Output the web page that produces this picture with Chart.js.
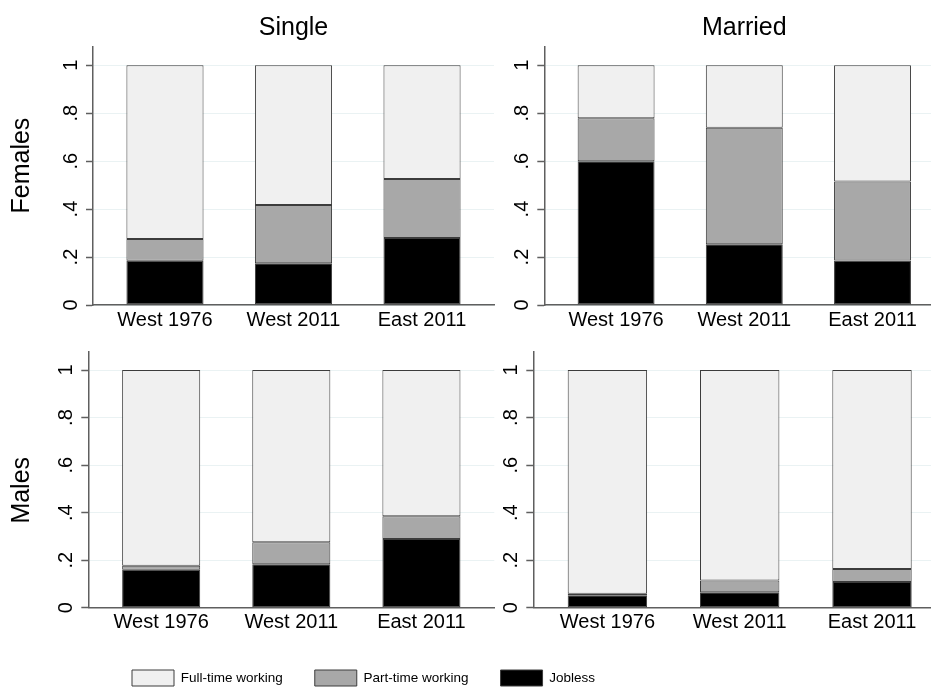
<!DOCTYPE html>
<html>
<head>
<meta charset="utf-8">
<script src="https://cdn.jsdelivr.net/npm/chart.js@4.4.0/dist/chart.umd.min.js"></script>
<style>
html, body { margin: 0; padding: 0; background: #ffffff; overflow: hidden; width: 931px; height: 689px; }
#wrap { position: relative; width: 931px; height: 689px; overflow: hidden; background: #ffffff; }
#wrap canvas { position: absolute; left: 0; }
</style>
</head>
<body>
<div id="wrap">
  <canvas id="tl" width="960" height="689" style="top:0;width:960px;height:689px"></canvas>
  <canvas id="tr" width="960" height="689" style="top:0;width:960px;height:689px"></canvas>
  <canvas id="bl" width="960" height="689" style="top:0;width:960px;height:689px"></canvas>
  <canvas id="br" width="960" height="689" style="top:0;width:960px;height:689px"></canvas>
  <canvas id="lg" width="960" height="160" style="top:560px;width:960px;height:160px"></canvas>
</div>
<script>
// ---- data ----
const categories = ['West 1976', 'West 2011', 'East 2011'];
const yTickValues = [0, 0.2, 0.4, 0.6, 0.8, 1];
const yTickLabels = ['0', '.2', '.4', '.6', '.8', '1'];
const seriesNames = ['Full-time working', 'Part-time working', 'Jobless'];
const columnTitles = ['Single', 'Married'];
const rowTitles = ['Females', 'Males'];

// Females, single
const singleFemalesJobless = [0.185, 0.174, 0.279];
const singleFemalesPart    = [0.090, 0.243, 0.246];
const singleFemalesFull    = [0.725, 0.583, 0.475];
// Females, married
const marriedFemalesJobless = [0.600, 0.253, 0.186];
const marriedFemalesPart    = [0.179, 0.486, 0.329];
const marriedFemalesFull    = [0.221, 0.261, 0.485];
// Males, single
const singleMalesJobless = [0.160, 0.183, 0.289];
const singleMalesPart    = [0.017, 0.092, 0.096];
const singleMalesFull    = [0.823, 0.725, 0.615];
// Males, married
const marriedMalesJobless = [0.052, 0.065, 0.108];
const marriedMalesPart    = [0.007, 0.049, 0.055];
const marriedMalesFull    = [0.941, 0.886, 0.837];

// ---- styling ----
Chart.defaults.font.family = "'Liberation Sans', Arial, Helvetica, sans-serif";
const axisColor = '#5f5f5f';
const gridColor = '#EAF2F3';
const outline = '#3c3c3c';
const fills = { full: '#F0F0F0', part: '#A8A8A8', jobless: '#000000' };

function toXY(arr) { return arr.map((v, i) => ({ x: i, y: v })); }

function makeDatasets(jobless, part, full) {
  return [
    { label: seriesNames[2], data: toXY(jobless), backgroundColor: fills.jobless, borderColor: outline },
    { label: seriesNames[1], data: toXY(part), backgroundColor: fills.part, borderColor: outline },
    { label: seriesNames[0], data: toXY(full), backgroundColor: fills.full, borderColor: outline }
  ];
}

function panel(id, jobless, part, full, o) {
  new Chart(document.getElementById(id), {
    type: 'bar',
    data: { datasets: makeDatasets(jobless, part, full) },
    options: {
      responsive: false,
      animation: false,
      devicePixelRatio: 1,
      layout: { padding: { left: o.padL, right: o.padR, top: o.padT, bottom: o.padB } },
      datasets: { bar: { categoryPercentage: 1, barPercentage: 0.6, borderWidth: 1, borderSkipped: false } },
      plugins: {
        legend: { display: false },
        tooltip: { enabled: false },
        title: o.title ? {
          display: true, text: o.title, color: '#000', fullSize: false,
          font: { size: 25, weight: 'normal' }, padding: { top: 13, bottom: 4 }
        } : { display: false }
      },
      scales: {
        x: {
          type: 'linear', min: -0.56, max: 2.56, stacked: true, offset: false, bounds: 'data',
          grid: { display: false, drawTicks: false, offset: false },
          border: { display: true, color: axisColor, width: 1.5 },
          ticks: { color: '#000', font: { size: 20 }, padding: 3, autoSkip: false, maxRotation: 0,
                   callback: (v) => categories[v] },
          afterBuildTicks: (s) => { s.ticks = categories.map((c, i) => ({ value: i })); },
          afterFit: (s) => { s.height = 30; }
        },
        y: {
          min: 0, max: 1.076, stacked: true,
          border: { display: true, color: axisColor, width: 1.5 },
          grid: { color: gridColor, lineWidth: 1, drawTicks: true, tickLength: 7, tickColor: axisColor, tickWidth: 1.5 },
          ticks: { color: '#000', font: { size: 20 }, minRotation: 90, maxRotation: 90, crossAlign: 'center', padding: 6,
                   callback: (v, i) => yTickLabels[i] },
          afterBuildTicks: (s) => { s.ticks = yTickValues.map((v) => ({ value: v })); },
          afterFit: (s) => { s.width = o.yw; },
          title: o.row ? { display: true, text: o.row, color: '#000', font: { size: 25, lineHeight: 1.2 }, padding: 0 } : { display: false }
        }
      }
    }
  });
}

// row labels are centred on the whole sub-graph (title / tick labels included),
// so they sit slightly above (top row) or below (bottom row) the plot centre
const rowLabelTop = '   ' + rowTitles[0];
const rowLabelBottom = rowTitles[1] + '   ';

// top-left: Single / Females
panel('tl', singleFemalesJobless, singleFemalesPart, singleFemalesFull,
  { padL: 7.5, yw: 85.5, padR: 960 - 494, padT: 0, padB: 689 - 305 - 30, title: columnTitles[0], row: rowLabelTop });
// top-right: Married / Females
panel('tr', marriedFemalesJobless, marriedFemalesPart, marriedFemalesFull,
  { padL: 504.3, yw: 40, padR: 960 - 944.3, padT: 0, padB: 689 - 305 - 30, title: columnTitles[1] });
// bottom-left: Single / Males
panel('bl', singleMalesJobless, singleMalesPart, singleMalesFull,
  { padL: 7.5, yw: 80.8, padR: 960 - 494.3, padT: 352, padB: 689 - 607.7 - 30, row: rowLabelBottom });
// bottom-right: Married / Males
panel('br', marriedMalesJobless, marriedMalesPart, marriedMalesFull,
  { padL: 493.3, yw: 40, padR: 960 - 946.1, padT: 352, padB: 689 - 607.7 - 30 });

// shared legend
new Chart(document.getElementById('lg'), {
  type: 'bar',
  data: { datasets: makeDatasets([], [], []) },
  options: {
    responsive: false,
    animation: false,
    devicePixelRatio: 1,
    layout: { padding: { left: 100, right: 0, top: 78, bottom: 0 } },
    plugins: {
      tooltip: { enabled: false },
      legend: {
        display: true, position: 'top', align: 'start', reverse: true, maxHeight: 120,
        labels: {
          boxWidth: 42, boxHeight: 16, padding: 32, color: '#000',
          font: { size: 13.5 }
        }
      }
    },
    datasets: { bar: { borderWidth: 1 } },
    scales: { x: { display: false }, y: { display: false } }
  }
});
</script>
</body>
</html>
